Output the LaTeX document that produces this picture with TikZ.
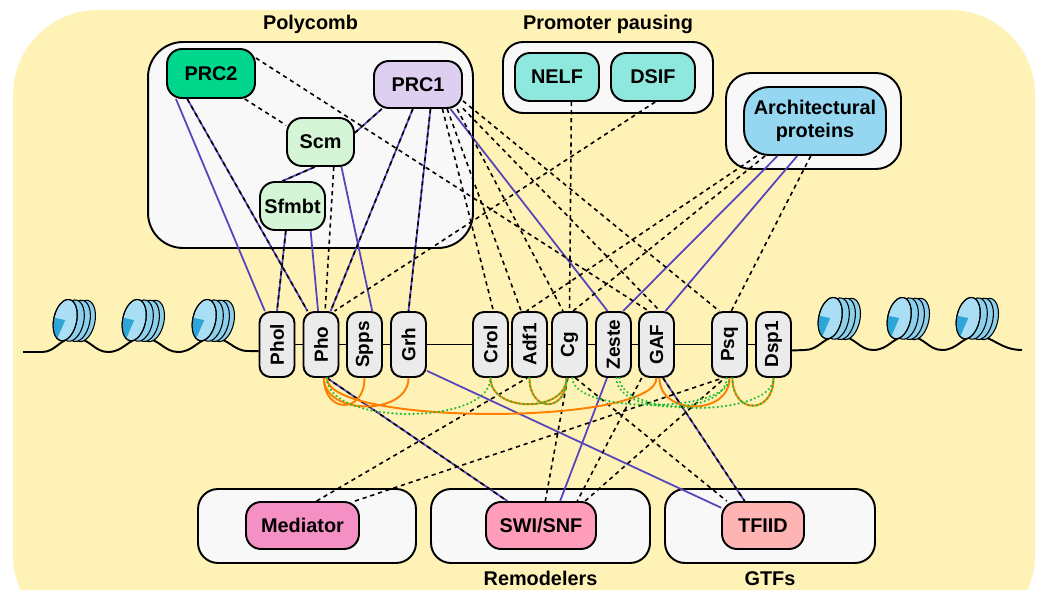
\documentclass[tikz,border=0pt]{standalone}
\usepackage{fontspec}
\setmainfont{Liberation Sans}
\usepackage{graphicx}
\usepackage{tikz}
\usetikzlibrary{positioning}

\definecolor{bgyellow}{RGB}{255,242,182}
\definecolor{groupfill}{RGB}{248,248,248}
\definecolor{genefill}{RGB}{235,235,235}
\definecolor{prctwo}{RGB}{0,214,140}
\definecolor{prcone}{RGB}{220,207,240}
\definecolor{pcgreen}{RGB}{212,245,214}
\definecolor{pausing}{RGB}{142,232,221}
\definecolor{archblue}{RGB}{149,214,240}
\definecolor{mediatorpink}{RGB}{245,144,196}
\definecolor{swisnfpink}{RGB}{255,157,187}
\definecolor{tfiidpink}{RGB}{255,180,180}
\definecolor{linkpurple}{RGB}{85,68,187}
\definecolor{linkorange}{RGB}{255,127,0}
\definecolor{linkgreen}{RGB}{34,187,51}
\definecolor{nucface}{RGB}{170,222,244}
\definecolor{nucbody}{RGB}{140,208,236}
\definecolor{nucdark}{RGB}{45,165,215}

\tikzset{protein node/.style={rectangle,draw,rounded corners=0.3cm,line width=1.1pt,inner sep=1pt,
    align=center,font=\fontsize{11.3}{13}\selectfont\bfseries},
  gene node/.style={rectangle,draw,rounded corners=0.22cm,line width=1.1pt,fill=genefill,inner sep=0pt,
    minimum width=0.7cm,minimum height=1.3cm,font=\fontsize{10.8}{12}\selectfont\bfseries},
  group box/.style={rectangle,draw,line width=1.1pt,fill=groupfill,rounded corners=0.4cm},
  group label/.style={inner sep=1pt,font=\fontsize{11.3}{13}\selectfont\bfseries},
  nucleosome/.pic={
    \draw[line width=0.6pt,fill=nucbody,rotate=-12] (9,-3) ellipse (0.23cm and 0.42cm);
    \draw[line width=0.6pt,fill=nucbody,rotate=-12] (4,-2) ellipse (0.23cm and 0.42cm);
    \draw[line width=0.6pt,fill=nucbody,rotate=-12] (-2,-1) ellipse (0.23cm and 0.42cm);
    \draw[line width=0.6pt,fill=nucface,rotate=-12] (-9,0) ellipse (0.23cm and 0.42cm);
    \fill[nucdark,rotate=-12] (-9,0) -- ++(-0.23cm,0) arc[start angle=180,end angle=250,x radius=0.23cm,y radius=0.42cm] -- cycle;
    \draw[line width=0.6pt,rotate=-12] (-9,0) ellipse (0.23cm and 0.42cm);
  }
}

\begin{document}
\begin{tikzpicture}[x=0.02cm,y=-0.02cm,
    dna line/.style={line width=1.1pt,black},
    purple edge/.style={line width=1pt,linkpurple},
    dashed edge/.style={line width=0.9pt,black,dash pattern=on 2.4pt off 2.2pt},
    orange edge/.style={line width=1.1pt,linkorange},
    green edge/.style={line width=1.4pt,linkgreen,line cap=round,dash pattern=on 0.01pt off 2.4pt},
    sag/.style={to path={.. controls +(0,#1) and +(0,#1) .. (\tikztotarget)}}]

\useasboundingbox (0,0) rectangle (1038,590);
\fill[white] (0,0) rectangle (1038,590);
\fill[bgyellow,rounded corners=1.7cm] (13,10) rectangle (1035,640);

% groups
\node[group box,rounded corners=0.7cm,minimum width=6.5cm,minimum height=4.12cm] (polycomb) at (310.5,145) {};
\node[group box,minimum width=4.2cm,minimum height=1.42cm] (pausing) at (608,77.5) {};
\node[group box,rounded corners=0.5cm,minimum width=3.5cm,minimum height=1.92cm] (archgroup) at (813.5,121) {};
\node[group box,minimum width=4.36cm,minimum height=1.48cm] (mediatorgroup) at (307,526) {};
\node[group box,minimum width=4.38cm,minimum height=1.48cm] (remodelers) at (540.5,526) {};
\node[group box,minimum width=4.2cm,minimum height=1.48cm] (gtfs) at (770,526) {};

\node[group label,above=3pt of polycomb] (polycomb label) {Polycomb};
\node[group label,above=3pt of pausing] (pausing label) {Promoter pausing};
\node[group label,below=3pt of remodelers] (remodelers label) {Remodelers};
\node[group label,below=3pt of gtfs] (gtfs label) {GTFs};

% proteins
\node[protein node,fill=prctwo,minimum width=1.76cm,minimum height=0.98cm] (prc2) at (211,73.5) {PRC2};
\node[protein node,fill=prcone,minimum width=1.76cm,minimum height=0.94cm] (prc1) at (418,84.5) {PRC1};
\node[protein node,fill=pcgreen,minimum width=1.34cm,minimum height=0.96cm] (scm) at (320.5,142) {Scm};
\node[protein node,fill=pcgreen,minimum width=1.30cm,minimum height=0.96cm] (sfmbt) at (292.5,206) {Sfmbt};
\node[protein node,fill=pausing,minimum width=1.68cm,minimum height=0.96cm] (nelf) at (557,77) {NELF};
\node[protein node,fill=pausing,minimum width=1.68cm,minimum height=0.96cm] (dsif) at (653,77) {DSIF};
\node[protein node,fill=archblue,rounded corners=0.5cm,minimum width=2.84cm,minimum height=1.36cm] (arch) at (815,121) {Architectural\\proteins};
\node[protein node,fill=mediatorpink,minimum width=2.26cm,minimum height=0.94cm] (mediator) at (302.5,525.5) {Mediator};
\node[protein node,fill=swisnfpink,minimum width=2.2cm,minimum height=0.94cm] (swisnf) at (541,525.5) {SWI/SNF};
\node[protein node,fill=tfiidpink,minimum width=1.64cm,minimum height=0.94cm] (tfiid) at (763,525.5) {TFIID};

% genes on the DNA
\node[gene node] (phol) at (277,344.5) {\rotatebox{90}{Phol}};
\node[gene node] (pho) at (321,344.5) {\rotatebox{90}{Pho}};
\node[gene node] (spps) at (364.5,344.5) {\rotatebox{90}{Spps}};
\node[gene node] (grh) at (408.5,344.5) {\rotatebox{90}{Grh}};
\node[gene node] (crol) at (490.5,344.5) {\rotatebox{90}{Crol}};
\node[gene node] (adf1) at (529.5,344.5) {\rotatebox{90}{Adf1}};
\node[gene node] (cg) at (569.5,344.5) {\rotatebox{90}{Cg}};
\node[gene node] (zeste) at (613.5,344.5) {\rotatebox{90}{Zeste}};
\node[gene node] (gaf) at (656.5,344.5) {\rotatebox{90}{GAF}};
\node[gene node] (psq) at (729.5,344.5) {\rotatebox{90}{Psq}};
\node[gene node] (dsp1) at (773.5,344.5) {\rotatebox{90}{Dsp1}};

\path[dna line] (phol) edge (pho) (pho) edge (spps) (spps) edge (grh) (grh) edge (crol)
  (crol) edge (adf1) (adf1) edge (cg) (cg) edge (zeste) (zeste) edge (gaf)
  (gaf) edge (psq) (psq) edge (dsp1);
\draw[dna line] (23,352) -- (42,352) .. controls (56,352) and (60,338) .. (74,338)
  .. controls (90,338) and (94,352) .. (108,352) .. controls (124,352) and (128,338) .. (143,338)
  .. controls (159,338) and (164,352) .. (178,352) .. controls (194,352) and (198,338) .. (213,338)
  .. controls (229,338) and (233,351) .. (248,351) -- (phol.-160);
\draw[dna line] (dsp1.-18) -- (805,350) .. controls (819,350) and (824,336) .. (839,336)
  .. controls (855,336) and (859,350) .. (873,350) .. controls (889,350) and (893,336) .. (908,336)
  .. controls (924,336) and (928,350) .. (942,350) .. controls (958,350) and (962,336) .. (977,336)
  .. controls (993,336) and (1000,350) .. (1022,350);

\pic (nucl1) at (74,322) {nucleosome};
\pic (nucl2) at (143,322) {nucleosome};
\pic (nucl3) at (213,322) {nucleosome};
\pic (nucr1) at (839,320) {nucleosome};
\pic (nucr2) at (908,320) {nucleosome};
\pic (nucr3) at (977,320) {nucleosome};

% interactions
\path[purple edge]
  (prc2.-144) edge (phol.110)
  (prc2.-133) edge (pho.112)
  (scm.15) edge (prc1.-146)
  (scm.-103) edge (sfmbt.112)
  (scm.-50) edge (spps.77)
  (sfmbt.-105) edge (phol.90)
  (sfmbt.-54) edge (pho.95)
  (prc1.-102) edge (pho.74)
  (prc1.-63) edge (grh.90)
  (prc1.-37) edge (zeste.100)
  (arch.-137) edge (zeste.74)
  (arch.-117) edge (gaf.75)
  (pho.-80) edge (swisnf.144)
  (grh.-55) edge (tfiid.157)
  (zeste.-101) edge (swisnf.52)
  (gaf.-79) edge (tfiid.127);

\path[dashed edge]
  (prc2.-133) edge (pho.112)
  (prc2.-37) edge (scm.154)
  (prc2.19) edge (gaf.103)
  (scm.15) edge (prc1.-146)
  (scm.-103) edge (sfmbt.112)
  (scm.-62) edge (pho.83)
  (sfmbt.-105) edge (phol.90)
  (prc1.-102) edge (pho.74)
  (prc1.-63) edge (grh.90)
  (prc1.-45) edge (crol.85)
  (prc1.-40) edge (adf1.104)
  (prc1.-32) edge (cg.101)
  (prc1.-28) edge (gaf.84)
  (prc1.-20) edge (psq.107)
  (dsif.-85) edge (pho.68)
  (nelf.-60) edge (cg.north)
  (arch.-149) edge (adf1.95)
  (arch.-145) edge (cg.84)
  (arch.-97) edge (psq.87)
  (pho.-80) edge (swisnf.144)
  (gaf.-79) edge (tfiid.127)
  (mediator.60) edge (adf1.-94)
  (mediator.25) edge (psq.-101)
  (cg.-93) edge (swisnf.80)
  (cg.-80) edge (tfiid.146)
  (gaf.-114) edge (swisnf.34)
  (swisnf.29) edge (psq.-98);

\path[orange edge]
  (pho.-85) edge[sag=36] (spps.south)
  (pho.-85) edge[sag=38] (grh.south)
  (pho.-80) edge[sag=48] (gaf.south)
  (crol.south) edge[sag=35] (cg.-95)
  (adf1.south) edge[sag=35] (cg.-95)
  (gaf.-85) edge[sag=38] (psq.south)
  (psq.-85) edge[sag=37] (dsp1.south);

\path[green edge]
  (pho.-80) edge[sag=48] (crol.south)
  (crol.south) edge[sag=35] (cg.-95)
  (adf1.south) edge[sag=35] (cg.-95)
  (cg.-85) edge[sag=36] (psq.south)
  (zeste.-85) edge[sag=38] (psq.-95)
  (zeste.-80) edge[sag=40] (dsp1.south)
  (psq.-85) edge[sag=37] (dsp1.south);
\end{tikzpicture}
\end{document}
